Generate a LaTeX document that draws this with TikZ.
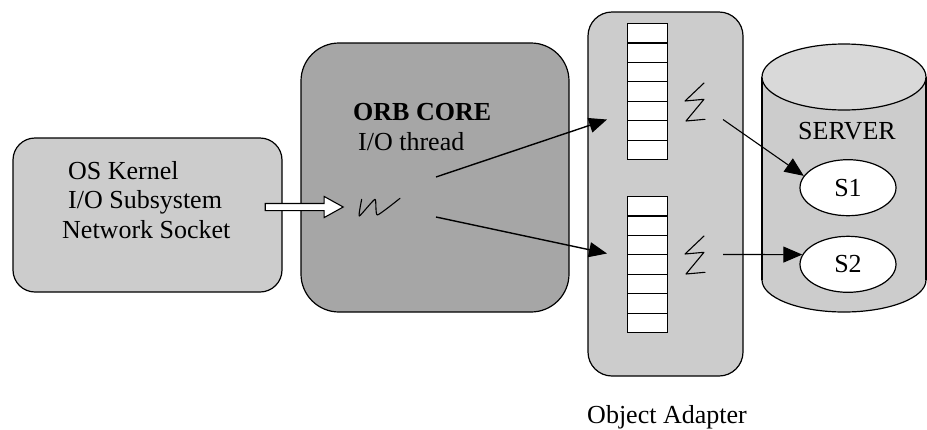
\documentclass[tikz,border=0pt]{standalone}
\usepackage{fontspec}
\setmainfont{Liberation Serif}
\usepackage{tikz}
\usetikzlibrary{shapes.geometric,shapes.arrows,arrows.meta}
\definecolor{grisclair}{gray}{0.8}
\definecolor{grisfonce}{gray}{0.65}
\definecolor{grishaut}{gray}{0.85}
\tikzset{
  bloc/.style={draw, line width=1.2pt, inner sep=0pt},
  fleche/.style={line width=1.4pt, -{Triangle[length=18pt,width=15pt]}},
  flechefine/.style={line width=1.1pt, -{Triangle[length=19pt,width=16pt]}},
  trait/.style={line width=1.1pt, line join=round, line cap=round},
  case/.style={draw, line width=1.1pt, fill=white, inner sep=0pt, minimum width=40pt, minimum height=19.43pt, anchor=north west},
  creux/.style={single arrow, draw, line width=1.1pt, fill=white, inner sep=3pt, minimum height=78pt, single arrow head extend=7pt, single arrow tip angle=58},
}

\begin{document}
\begin{tikzpicture}[x=1pt, y=-1pt, font=\fontsize{26}{29.4}\selectfont]
        \useasboundingbox (0,0) rectangle (927,429);
        % OS side
        \node[bloc, fill=grisclair, rounded corners=22pt, minimum width=269pt, minimum height=154pt] (osk) at (147.5,215) {};
        \node[anchor=north west, align=left, inner sep=0pt] (osktxt) at (62,161.2) {\hspace*{6pt}OS Kernel\\\hspace*{6pt}I/O Subsystem\\Network Socket};
        % ORB core
        \node[bloc, fill=grisfonce, rounded corners=38pt, minimum width=268pt, minimum height=269pt] (orb) at (435,177.5) {};
        \node[anchor=north west, align=left, inner sep=0pt] (orbtxt) at (353,103.4) {\textbf{ORB CORE}\\\hspace*{5pt}I/O thread};
        \coordinate (w) at (380,207);
        \draw[trait] plot[smooth, tension=0.3] coordinates {(361.7,199.3) (359.3,216) (375,199.3) (377.3,215) (400,198.3)};
        \node[creux] (feed) at (301,207) {};
        % object adapter
        \node[bloc, fill=grisclair, rounded corners=24pt, minimum width=155pt, minimum height=364pt] (oa) at (665.5,194) {};
        \node[anchor=base] (oatxt) at (667,423) {Object Adapter};
        \foreach \i in {0,...,6} {
          \node[case] (qa\i) at (627,{23+19.43*\i}) {};
          \node[case] (qb\i) at (627,{196+19.43*\i}) {};
        }
        \foreach \y in {0,153}
          \draw[trait, shift={(0,\y)}] (704,83) -- (685,101) -- (704,99.3) -- (686,121) -- (705,119.3);
        % server
        \draw[line width=1.2pt, fill=grisclair] (844,280) ellipse (82 and 32);
        \fill[grisclair] (762,77) rectangle (926,280);
        \draw[line width=1.2pt] (762,77) -- (762,280) (926,77) -- (926,280);
        \draw[line width=1.2pt, fill=grishaut] (844,77) ellipse (82 and 33);
        \node[anchor=base] (srv) at (847,139.5) {SERVER};
        \node[bloc, ellipse, fill=white, minimum width=96pt, minimum height=56pt] (s1) at (848,187.7) {S1};
        \node[bloc, ellipse, fill=white, minimum width=96pt, minimum height=56pt] (s2) at (848,264.3) {S2};
        % arrows
        \coordinate (d1) at (436,177);
        \coordinate (d2) at (436,217);
        \coordinate (e1) at (607,119.5);
        \coordinate (e2) at (607,253.5);
        \coordinate (f1) at (723,119.5);
        \coordinate (f2) at (723,254.5);
        \draw[fleche] (d1) -- (e1);
        \draw[fleche] (d2) -- (e2);
        \draw[flechefine] (f1) -- (s1.165);
        \draw[flechefine] (f2) -- (s2.168);
\end{tikzpicture}
\end{document}
